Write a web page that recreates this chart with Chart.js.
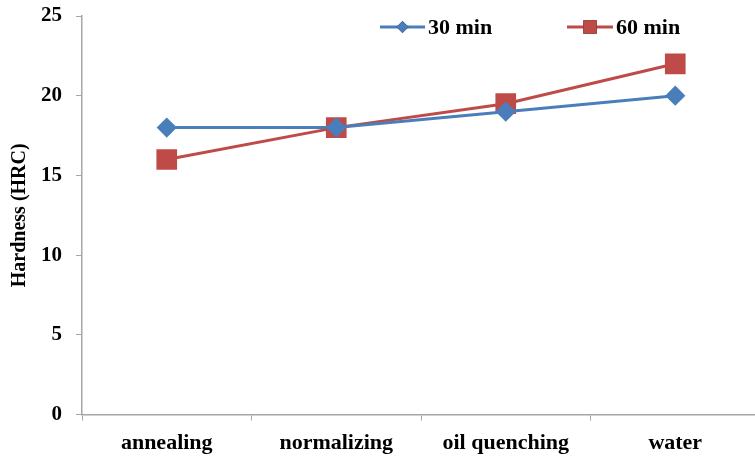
<!DOCTYPE html>
<html>
<head>
<meta charset="utf-8">
<script src="https://cdn.jsdelivr.net/npm/chart.js@4/dist/chart.umd.min.js"></script>
<style>
  html, body { margin: 0; padding: 0; background: #fff; overflow: hidden; }
  #clip { width: 755px; height: 456px; overflow: hidden; }
  /* plot runs a few px past the right edge, as in the original */
  #wrap { width: 760px; height: 456px; }
</style>
</head>
<body>
<div id="clip"><div id="wrap"><canvas id="hardness"></canvas></div></div>
<script>
// ********************* data ***********************
const treatments = ['annealing', 'normalizing', 'oil quenching', 'water'];
const min30 = [18, 18, 19, 20];
const min60 = [16, 18, 19.5, 22];
const yTicks = [0, 5, 10, 15, 20, 25];

const blue = '#4A7EBB';
const red = '#BE4B48';
const font = 'Liberation Serif, Times New Roman, serif';

// legend drawn as line + marker, inside plot area top right
const lineLegend = {
    id: 'lineLegend',
    afterDraw(chart) {
      const ctx = chart.ctx;
      const items = [
        { x: 380, w: 45, ds: chart.data.datasets[0], r: 6 },
        { x: 567, w: 46, ds: chart.data.datasets[1], r: 9.5 },
      ];
      const y = 27;
      ctx.save();
      items.forEach(it => {
        ctx.strokeStyle = it.ds.borderColor;
        ctx.lineWidth = 3;
        ctx.beginPath();
        ctx.moveTo(it.x, y);
        ctx.lineTo(it.x + it.w, y);
        ctx.stroke();
        Chart.helpers.drawPoint(ctx, {
          pointStyle: it.ds.pointStyle,
          radius: it.r,
          borderWidth: 0
        }, it.x + it.w / 2, y);
        ctx.fillStyle = it.ds.backgroundColor;
        ctx.fill();
        ctx.fillStyle = '#000';
        ctx.font = 'bold 22px ' + font;
        ctx.textBaseline = 'middle';
        ctx.fillText(it.ds.label, it.x + it.w + 3, y + 1);
      });
      ctx.restore();
    }
};

const hardnessData = {
    labels: treatments,
    datasets: [{
      label: '30 min',
      data: min30,
      borderColor: blue,
      backgroundColor: blue,
      borderWidth: 3,
      pointStyle: 'rectRot',
      pointRadius: 8,
      pointHoverRadius: 8,
    }, {
      label: '60 min',
      data: min60,
      borderColor: red,
      backgroundColor: red,
      borderWidth: 3,
      pointStyle: 'rect',
      pointRadius: 12.5,
      pointHoverRadius: 12.5,
    }]
};

const config = {
    type: 'line',
    data: hardnessData,
    plugins: [lineLegend],
    options: {
      responsive: true,
      maintainAspectRatio: false,
      animation: false,
      layout: { autoPadding: false, padding: { top: 16, right: 0, bottom: -11, left: 8 } },
      plugins: {
        legend: { display: false },
        tooltip: { enabled: false },
      },
      scales: {
        x: {
          offset: true,
          grid: {
            offset: true,
            drawOnChartArea: false,
            tickLength: 6,
            color: '#A6A6A6',
          },
          border: { color: '#A6A6A6', width: 1.5 },
          ticks: {
            color: '#000',
            padding: 10,
            font: { family: font, size: 22, weight: 'bold' },
          },
        },
        y: {
          min: 0,
          max: 25,
          afterBuildTicks: axis => { axis.ticks = yTicks.map(v => ({ value: v })); },
          // let the layout padding alone decide where 25 sits
          afterFit: axis => { axis.paddingTop = 0; axis.paddingBottom = 0; },
          grid: {
            drawOnChartArea: false,
            tickLength: 6,
            color: '#A6A6A6',
          },
          border: { color: '#A6A6A6', width: 1.5 },
          ticks: {
            color: '#000',
            padding: 14,
            font: { family: font, size: 21, weight: 'bold' },
          },
          title: {
            display: true,
            text: 'Hardness (HRC)',
            color: '#000',
            padding: { top: 0, bottom: -5 },
            font: { family: font, size: 20, weight: 'bold' },
          },
        },
      },
    }
};

const hardness = new Chart(
    document.getElementById('hardness'),
    config
);
</script>
</body>
</html>
